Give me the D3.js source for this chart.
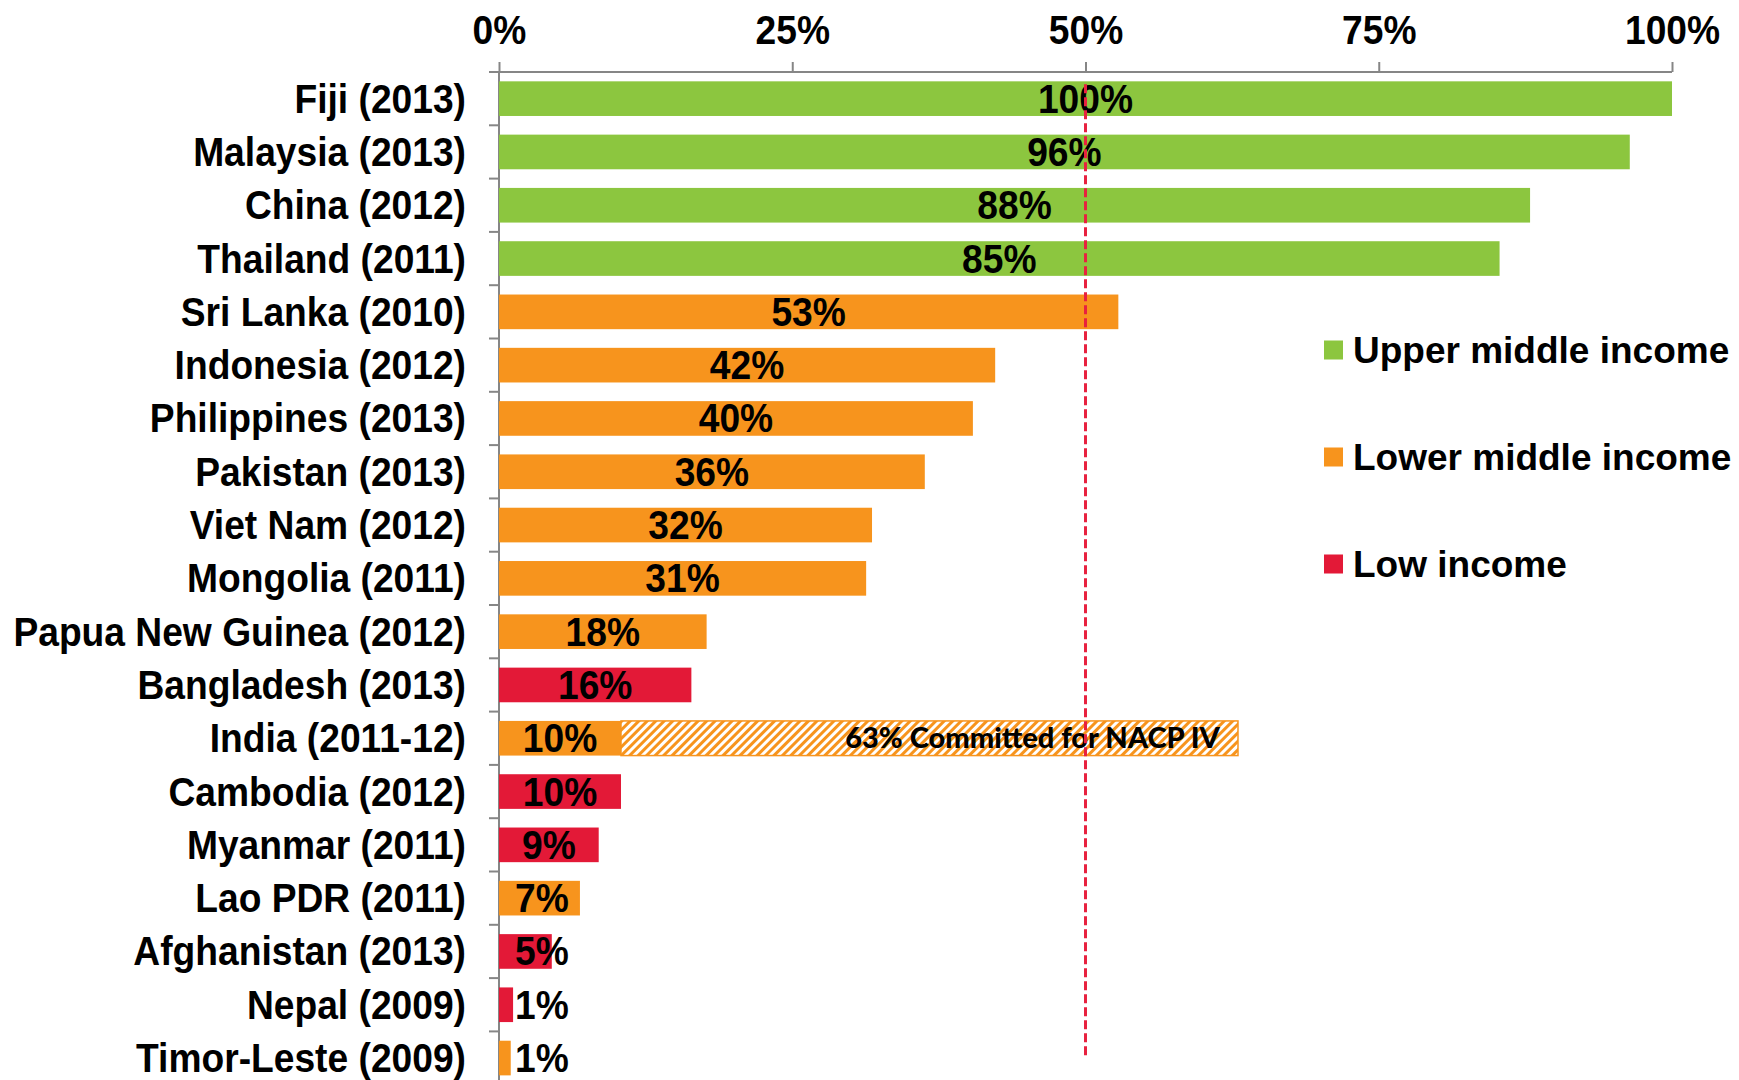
<!DOCTYPE html>
<html>
<head>
<meta charset="utf-8">
<script src="https://cdn.jsdelivr.net/npm/d3@7"></script>
<style>
  body { margin: 0; background: #fff; }
  svg { display: block; }
  .narrow { font-family: "Liberation Sans", Arial, sans-serif; font-weight: bold; }
</style>
</head>
<body>
<svg id="chart"></svg>
<script>
// data
const countries = ["Fiji (2013)", "Malaysia (2013)", "China (2012)", "Thailand (2011)", "Sri Lanka (2010)",
    "Indonesia (2012)", "Philippines (2013)", "Pakistan (2013)", "Viet Nam (2012)", "Mongolia (2011)",
    "Papua New Guinea (2012)", "Bangladesh (2013)", "India (2011-12)", "Cambodia (2012)", "Myanmar (2011)",
    "Lao PDR (2011)", "Afghanistan (2013)", "Nepal (2009)", "Timor-Leste (2009)"]
const shares = [100, 96.4, 87.9, 85.3, 52.8, 42.3, 40.4, 36.3, 31.8, 31.3, 17.7, 16.4, 10.4, 10.4, 8.5, 6.9, 4.5, 1.2, 1.0]
const groups = ["upper", "upper", "upper", "upper", "lower", "lower", "lower", "lower", "lower", "lower",
    "lower", "low", "lower", "low", "low", "lower", "low", "low", "lower"]
const incomeGroups = ["upper", "lower", "low"]
const incomeLabels = ["Upper middle income", "Lower middle income", "Low income"]
const xTicks = [0, 25, 50, 75, 100]
const committedCountry = "India (2011-12)"
const committedShare = 63
const committedLabel = "63% Committed for NACP IV"
const refLine = 50

let svgWidth = 1739, svgHeight = 1080
let plotLeft = 499, plotRight = 1672, plotTop = 72
let squeeze = 0.93   // no narrow font installed, so squeeze Liberation Sans Bold
let labelSize = 40

let svg = d3.select('#chart')
    .attr('width', svgWidth)
    .attr('height', svgHeight)

svg.append('rect').attr('width', svgWidth).attr('height', svgHeight).attr('fill', '#fff')

let color = d3.scaleOrdinal()
    .domain(incomeGroups)
    .range(['#8CC63F', '#F7941D', '#E31937'])

let x = d3.scaleLinear().domain([0, 100]).range([plotLeft, plotRight])
let y = d3.scaleBand()
    .domain(countries)
    .range([plotTop, plotTop + 53.3 * countries.length])
    .paddingInner(0.35)
    .paddingOuter(0.175)

let data = countries.map(function(c, i) {
    return { name: c, value: shares[i], group: groups[i] }
})

// hatch pattern for the committed part
let pattern = svg.append('defs').append('pattern')
    .attr('id', 'hatch')
    .attr('width', 6)
    .attr('height', 6)
    .attr('patternUnits', 'userSpaceOnUse')
    .attr('patternTransform', 'rotate(45)')
pattern.append('rect').attr('width', 6).attr('height', 6).attr('fill', '#fff')
pattern.append('rect').attr('width', 3).attr('height', 6).attr('fill', '#F7941D')

// top axis
let xAxis = d3.axisTop(x)
    .tickValues(xTicks)
    .tickFormat(function(d) { return d + '%' })
    .tickSize(10)
    .tickSizeOuter(0)
    .tickPadding(18)

let gx = svg.append('g')
    .attr('transform', 'translate(0,' + plotTop + ')')
    .call(xAxis)
gx.select('.domain').remove()
gx.selectAll('.tick line').attr('stroke', '#868686').attr('stroke-width', 2)
gx.selectAll('.tick text')
    .attr('class', 'narrow')
    .attr('font-size', labelSize)
    .attr('fill', '#000')
    .attr('transform', 'scale(' + squeeze + ',1)')
gx.append('line')
    .attr('x1', plotLeft - 10).attr('x2', plotRight)
    .attr('y1', 0).attr('y2', 0)
    .attr('stroke', '#868686').attr('stroke-width', 2)

// left axis with ticks between categories
svg.append('line')
    .attr('x1', plotLeft).attr('x2', plotLeft)
    .attr('y1', plotTop).attr('y2', svgHeight)
    .attr('stroke', '#868686').attr('stroke-width', 2)

svg.selectAll('.ytick')
    .data(countries.slice(0, -1))
    .enter()
    .append('line')
    .attr('class', 'ytick')
    .attr('x1', plotLeft - 10).attr('x2', plotLeft)
    .attr('y1', function(d) { return y(d) + y.bandwidth() + y.step() * y.paddingInner() / 2 })
    .attr('y2', function(d) { return y(d) + y.bandwidth() + y.step() * y.paddingInner() / 2 })
    .attr('stroke', '#868686').attr('stroke-width', 2)

svg.selectAll('.cat')
    .data(countries)
    .enter()
    .append('text')
    .attr('class', 'narrow')
    .attr('transform', function(d) {
        return 'translate(466,' + (y(d) + y.bandwidth() / 2) + ') scale(' + squeeze + ',1)'
    })
    .attr('dy', '0.35em')
    .attr('text-anchor', 'end')
    .attr('font-size', labelSize)
    .text(function(d) { return d })

// committed (hatched) bar for India
let iIndia = countries.indexOf(committedCountry)
svg.append('rect')
    .attr('x', x(shares[iIndia]))
    .attr('y', y(committedCountry))
    .attr('width', x(committedShare) - x(shares[iIndia]))
    .attr('height', y.bandwidth())
    .attr('fill', 'url(#hatch)')
    .attr('stroke', '#F7941D')
    .attr('stroke-width', 1.5)

svg.append('text')
    .attr('x', x(committedShare) - 18)
    .attr('y', y(committedCountry) + y.bandwidth() / 2)
    .attr('dy', '0.35em')
    .attr('text-anchor', 'end')
    .attr('font-family', 'Lato, "Open Sans", sans-serif')
    .attr('font-weight', 900)
    .attr('font-size', 29)
    .text(committedLabel)

// bars
svg.selectAll('.bar')
    .data(data)
    .enter()
    .append('rect')
    .attr('class', 'bar')
    .attr('x', x(0))
    .attr('y', function(d) { return y(d.name) })
    .attr('width', function(d) { return x(d.value) - x(0) })
    .attr('height', y.bandwidth())
    .attr('fill', function(d) { return color(d.group) })

// value labels, centred, pushed right when the bar is short
svg.selectAll('.val')
    .data(data)
    .enter()
    .append('text')
    .attr('class', 'narrow')
    .attr('font-size', labelSize)
    .attr('dy', '0.35em')
    .text(function(d) { return Math.round(d.value) + '%' })
    .attr('transform', function(d) {
        let w = this.getComputedTextLength() * squeeze
        let cx = (x(0) + x(d.value)) / 2 - w / 2
        let lx = Math.max(cx, x(0) + 16)
        return 'translate(' + lx + ',' + (y(d.name) + y.bandwidth() / 2) + ') scale(' + squeeze + ',1)'
    })

// 50% reference line
svg.append('line')
    .attr('x1', x(refLine)).attr('x2', x(refLine))
    .attr('y1', y(countries[0]) + 3)
    .attr('y2', y(countries[countries.length - 1]) + y.bandwidth() / 2)
    .attr('stroke', '#E8213F')
    .attr('stroke-width', 3)
    .attr('stroke-dasharray', '9,4')

// legend
let legend = svg.selectAll('.legend')
    .data(incomeGroups)
    .enter()
    .append('g')
    .attr('transform', function(d, i) { return 'translate(1324,' + (350 + i * 107) + ')' })

legend.append('rect')
    .attr('x', 0).attr('y', -9.5)
    .attr('width', 19).attr('height', 19)
    .attr('fill', function(d) { return color(d) })

legend.append('text')
    .attr('x', 29)
    .attr('dy', '0.36em')
    .attr('font-family', '"Liberation Sans", Arial, sans-serif')
    .attr('font-weight', 'bold')
    .attr('font-size', 37)
    .text(function(d, i) { return incomeLabels[i] })
</script>
</body>
</html>
